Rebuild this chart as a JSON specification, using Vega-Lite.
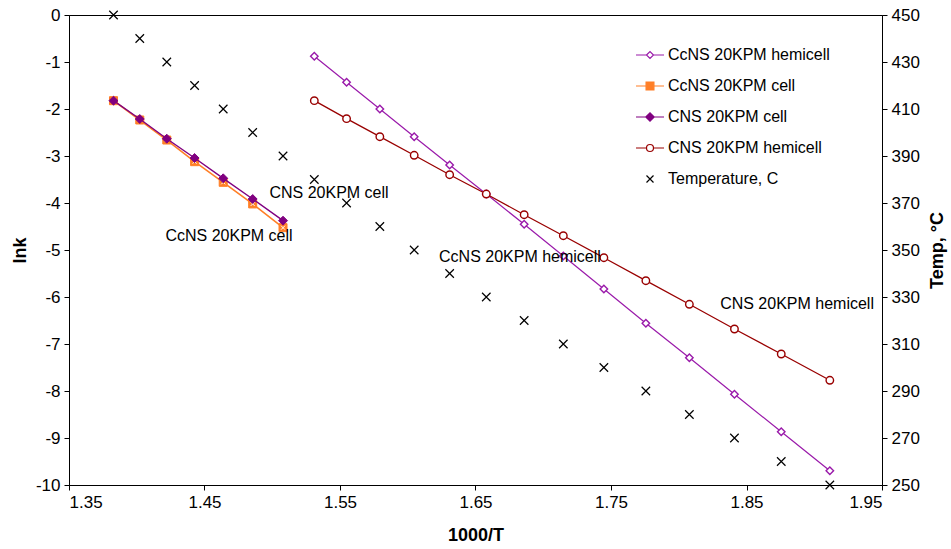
{
  "$schema": "https://vega.github.io/schema/vega-lite/v6.json",
  "width": 813,
  "height": 470,
  "autosize": {"type": "none"},
  "padding": {"left": 69, "top": 15, "right": 69, "bottom": 64},
  "background": "white",
  "config": {
    "font": "Liberation Sans",
    "view": {"stroke": "black", "strokeWidth": 1},
    "axis": {
      "grid": false, "domainColor": "black", "tickColor": "black", "labelColor": "black", "titleColor": "black",
      "labelFontSize": 17, "titleFontSize": 18, "titleFontWeight": "bold", "tickSize": 5, "labelPadding": 4,
      "labelFont": "Liberation Sans", "titleFont": "Liberation Sans"
    },
    "legend": {
      "orient": "none", "legendX": 566, "legendY": 25, "symbolSize": 784, "symbolStrokeWidth": 1.2,
      "labelFontSize": 16, "labelFont": "Liberation Sans", "labelColor": "black", "rowPadding": 8,
      "labelOffset": 3, "padding": 0, "symbolOpacity": 1, "labelLimit": 300
    }
  },
  "datasets": {
    "lnk": [
      {"series": "CcNS 20KPM hemicell", "x": 1.53104, "y": -0.879},
      {"series": "CcNS 20KPM hemicell", "x": 1.55485, "y": -1.432},
      {"series": "CcNS 20KPM hemicell", "x": 1.5794, "y": -2.0},
      {"series": "CcNS 20KPM hemicell", "x": 1.60475, "y": -2.589},
      {"series": "CcNS 20KPM hemicell", "x": 1.63092, "y": -3.191},
      {"series": "CcNS 20KPM hemicell", "x": 1.65796, "y": -3.809},
      {"series": "CcNS 20KPM hemicell", "x": 1.68591, "y": -4.453},
      {"series": "CcNS 20KPM hemicell", "x": 1.71482, "y": -5.128},
      {"series": "CcNS 20KPM hemicell", "x": 1.74474, "y": -5.83},
      {"series": "CcNS 20KPM hemicell", "x": 1.77573, "y": -6.56},
      {"series": "CcNS 20KPM hemicell", "x": 1.80783, "y": -7.291},
      {"series": "CcNS 20KPM hemicell", "x": 1.84111, "y": -8.07},
      {"series": "CcNS 20KPM hemicell", "x": 1.87564, "y": -8.866},
      {"series": "CcNS 20KPM hemicell", "x": 1.9115, "y": -9.696},
      {"series": "CcNS 20KPM cell", "x": 1.38284, "y": -1.823},
      {"series": "CcNS 20KPM cell", "x": 1.40223, "y": -2.234},
      {"series": "CcNS 20KPM cell", "x": 1.42217, "y": -2.66},
      {"series": "CcNS 20KPM cell", "x": 1.44269, "y": -3.121},
      {"series": "CcNS 20KPM cell", "x": 1.46381, "y": -3.56},
      {"series": "CcNS 20KPM cell", "x": 1.48555, "y": -4.02},
      {"series": "CcNS 20KPM cell", "x": 1.50795, "y": -4.525},
      {"series": "CNS 20KPM cell", "x": 1.38284, "y": -1.823},
      {"series": "CNS 20KPM cell", "x": 1.40223, "y": -2.213},
      {"series": "CNS 20KPM cell", "x": 1.42217, "y": -2.632},
      {"series": "CNS 20KPM cell", "x": 1.44269, "y": -3.043},
      {"series": "CNS 20KPM cell", "x": 1.46381, "y": -3.475},
      {"series": "CNS 20KPM cell", "x": 1.48555, "y": -3.915},
      {"series": "CNS 20KPM cell", "x": 1.50795, "y": -4.376},
      {"series": "CNS 20KPM hemicell", "x": 1.53104, "y": -1.823},
      {"series": "CNS 20KPM hemicell", "x": 1.55485, "y": -2.206},
      {"series": "CNS 20KPM hemicell", "x": 1.5794, "y": -2.589},
      {"series": "CNS 20KPM hemicell", "x": 1.60475, "y": -2.985},
      {"series": "CNS 20KPM hemicell", "x": 1.63092, "y": -3.398},
      {"series": "CNS 20KPM hemicell", "x": 1.65796, "y": -3.809},
      {"series": "CNS 20KPM hemicell", "x": 1.68591, "y": -4.249},
      {"series": "CNS 20KPM hemicell", "x": 1.71482, "y": -4.696},
      {"series": "CNS 20KPM hemicell", "x": 1.74474, "y": -5.164},
      {"series": "CNS 20KPM hemicell", "x": 1.77573, "y": -5.653},
      {"series": "CNS 20KPM hemicell", "x": 1.80783, "y": -6.155},
      {"series": "CNS 20KPM hemicell", "x": 1.84111, "y": -6.681},
      {"series": "CNS 20KPM hemicell", "x": 1.87564, "y": -7.213},
      {"series": "CNS 20KPM hemicell", "x": 1.9115, "y": -7.772}
    ],
    "temp": [
      {"x": 1.38284, "temp": 450}, {"x": 1.40223, "temp": 440}, {"x": 1.42217, "temp": 430},
      {"x": 1.44269, "temp": 420}, {"x": 1.46381, "temp": 410}, {"x": 1.48555, "temp": 400},
      {"x": 1.50795, "temp": 390}, {"x": 1.53104, "temp": 380}, {"x": 1.55485, "temp": 370},
      {"x": 1.5794, "temp": 360}, {"x": 1.60475, "temp": 350}, {"x": 1.63092, "temp": 340},
      {"x": 1.65796, "temp": 330}, {"x": 1.68591, "temp": 320}, {"x": 1.71482, "temp": 310},
      {"x": 1.74474, "temp": 300}, {"x": 1.77573, "temp": 290}, {"x": 1.80783, "temp": 280},
      {"x": 1.84111, "temp": 270}, {"x": 1.87564, "temp": 260}, {"x": 1.9115, "temp": 250}
    ],
    "labels": [
      {"text": "CNS 20KPM cell", "x": 1.5419, "y": -3.787},
      {"text": "CcNS 20KPM cell", "x": 1.4681, "y": -4.696},
      {"text": "CcNS 20KPM hemicell", "x": 1.6828, "y": -5.143},
      {"text": "CNS 20KPM hemicell", "x": 1.8873, "y": -6.149}
    ]
  },
  "layer": [
    {
      "data": {"name": "lnk"},
      "encoding": {
        "x": {"field": "x", "type": "quantitative", "scale": {"domain": [1.35, 1.95], "nice": false, "zero": false},
              "axis": {"title": "1000/T", "values": [1.35, 1.45, 1.55, 1.65, 1.75, 1.85, 1.95], "format": ".2f", "titlePadding": 16}},
        "y": {"field": "y", "type": "quantitative", "scale": {"domain": [-10, 0], "nice": false, "zero": false},
              "axis": {"title": "lnk", "orient": "left", "values": [-10, -9, -8, -7, -6, -5, -4, -3, -2, -1, 0], "labelExpr": "'' + datum.value", "titlePadding": 6}}
      },
      "layer": [
        {"transform": [{"filter": "datum.series === 'CcNS 20KPM hemicell'"}], "mark": {"type": "line", "color": "#9a1aaa", "strokeWidth": 1.2}},
        {"transform": [{"filter": "datum.series === 'CcNS 20KPM hemicell'"}], "mark": {"type": "point", "shape": "diamond", "size": 56, "filled": true, "fill": "white", "stroke": "#9a1aaa", "strokeWidth": 1.4, "opacity": 1}},
        {"transform": [{"filter": "datum.series === 'CcNS 20KPM cell'"}], "mark": {"type": "line", "color": "#ff7f27", "strokeWidth": 1.6}},
        {"transform": [{"filter": "datum.series === 'CcNS 20KPM cell'"}], "mark": {"type": "point", "shape": "square", "size": 64, "filled": true, "fill": "#ff7f27", "stroke": "#ff7f27", "strokeWidth": 1, "opacity": 1}},
        {"transform": [{"filter": "datum.series === 'CcNS 20KPM cell'"}], "mark": {"type": "point", "shape": "M-1,-1L1,1M-1,1L1,-1", "size": 16, "filled": false, "stroke": "white", "strokeWidth": 1, "opacity": 1}},
        {"transform": [{"filter": "datum.series === 'CNS 20KPM cell'"}], "mark": {"type": "line", "color": "#800080", "strokeWidth": 1.4}},
        {"transform": [{"filter": "datum.series === 'CNS 20KPM cell'"}], "mark": {"type": "point", "shape": "diamond", "size": 80, "filled": true, "fill": "#800080", "stroke": "#800080", "strokeWidth": 1, "opacity": 1}},
        {"transform": [{"filter": "datum.series === 'CNS 20KPM hemicell'"}], "mark": {"type": "line", "color": "#990000", "strokeWidth": 1.3}},
        {"transform": [{"filter": "datum.series === 'CNS 20KPM hemicell'"}], "mark": {"type": "point", "shape": "circle", "size": 56, "filled": true, "fill": "white", "stroke": "#990000", "strokeWidth": 1.4, "opacity": 1}},
        {
          "mark": {"type": "point", "opacity": 0, "filled": true},
          "encoding": {
            "shape": {"field": "series", "type": "nominal", "title": null,
              "scale": {"domain": ["CcNS 20KPM hemicell", "CcNS 20KPM cell", "CNS 20KPM cell", "CNS 20KPM hemicell", "Temperature, C"],
                "range": [
                  "M-1,0H-0.25M0.25,0H1M-0.25,0L0,-0.25L0.25,0L0,0.25Z",
                  "M-1,0H-0.28M0.28,0H1M-0.28,-0.28H0.28V0.28H-0.28Z",
                  "M-1,0H1M-0.3,0L0,-0.3L0.3,0L0,0.3Z",
                  "M-1,0H-0.25M0.25,0H1M-0.25,0A0.25,0.25 0 1 0 0.25,0A0.25,0.25 0 1 0 -0.25,0Z",
                  "M-0.25,-0.25L0.25,0.25M-0.25,0.25L0.25,-0.25"
                ]}},
            "stroke": {"field": "series", "type": "nominal", "title": null,
              "scale": {"domain": ["CcNS 20KPM hemicell", "CcNS 20KPM cell", "CNS 20KPM cell", "CNS 20KPM hemicell", "Temperature, C"],
                "range": ["#9a1aaa", "#ff7f27", "#800080", "#990000", "black"]}},
            "fill": {"field": "series", "type": "nominal", "title": null,
              "scale": {"domain": ["CcNS 20KPM hemicell", "CcNS 20KPM cell", "CNS 20KPM cell", "CNS 20KPM hemicell", "Temperature, C"],
                "range": ["white", "#ff7f27", "#800080", "white", "white"]}}
          }
        },
        {
          "data": {"name": "labels"},
          "mark": {"type": "text", "fontSize": 16, "font": "Liberation Sans", "color": "black", "align": "center", "baseline": "middle"},
          "encoding": {"text": {"field": "text"}}
        }
      ]
    },
    {
      "data": {"name": "temp"},
      "mark": {"type": "point", "shape": "M-1,-1L1,1M-1,1L1,-1", "size": 72, "filled": false, "color": "black", "strokeWidth": 1.2, "opacity": 1},
      "encoding": {
        "x": {"field": "x", "type": "quantitative", "scale": {"domain": [1.35, 1.95], "nice": false, "zero": false},
              "axis": {"title": "1000/T", "values": [1.35, 1.45, 1.55, 1.65, 1.75, 1.85, 1.95], "format": ".2f", "titlePadding": 16}},
        "y": {"field": "temp", "type": "quantitative", "scale": {"domain": [250, 450], "nice": false, "zero": false},
              "axis": {"title": "Temp, °C", "orient": "right", "values": [250, 270, 290, 310, 330, 350, 370, 390, 410, 430, 450], "titleAngle": 270, "titleBaseline": "top", "titlePadding": 9}}
      }
    }
  ],
  "resolve": {"scale": {"y": "independent"}}
}
